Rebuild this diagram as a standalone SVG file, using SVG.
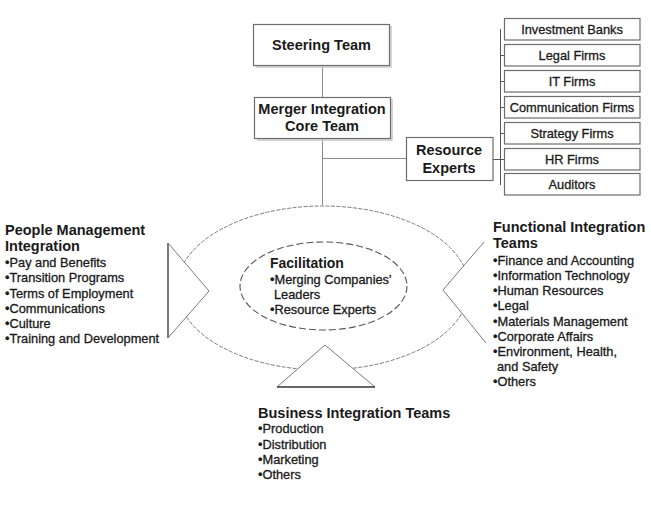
<svg xmlns="http://www.w3.org/2000/svg" width="651" height="507" viewBox="0 0 651 507">
  <style>
    .box { fill: #fff; stroke: #6d6d6d; stroke-width: 1.2; }
    .shadow { fill: none; stroke: #c8c8c8; stroke-width: 1.5; }
    .head { font-family: "Liberation Sans", Arial, sans-serif; font-weight: bold; font-size: 14.5px; fill: #1a1a1a; }
    .item { font-family: "Liberation Sans", Arial, sans-serif; font-size: 12.8px; fill: #1a1a1a; stroke: #1a1a1a; stroke-width: 0.3; }
    .mid { text-anchor: middle; }
    .conn { fill: none; stroke: #8a8a8a; stroke-width: 1; }
    .bracket { fill: none; stroke: #555; stroke-width: 1; }
    .outer { fill: none; stroke: #7a7a7a; stroke-width: 1; stroke-dasharray: 4 1.5; }
    .inner { fill: none; stroke: #555; stroke-width: 1.1; stroke-dasharray: 7 3; }
    .side { fill: none; stroke: #7a7a7a; stroke-width: 1; }
    .edge { fill: none; stroke: #333; stroke-width: 1.3; }
  </style>

  <!-- connectors -->
  <g id="connectors">
    <line class="conn" x1="322.5" y1="65" x2="322.5" y2="97"/>
    <line class="conn" x1="322.5" y1="138" x2="322.5" y2="205"/>
    <line class="conn" x1="322.5" y1="158.5" x2="406" y2="158.5"/>
    <line class="bracket" x1="493" y1="159.5" x2="500.5" y2="159.5"/>
    <line class="bracket" x1="500.5" y1="29" x2="500.5" y2="185"/>
    <line class="bracket" x1="500.5" y1="55.5" x2="504" y2="55.5"/>
    <line class="bracket" x1="500.5" y1="81.5" x2="504" y2="81.5"/>
    <line class="bracket" x1="500.5" y1="107.5" x2="504" y2="107.5"/>
    <line class="bracket" x1="500.5" y1="133.5" x2="504" y2="133.5"/>
    <line class="bracket" x1="500.5" y1="159.5" x2="504" y2="159.5"/>
  </g>

  <!-- leadership boxes -->
  <g id="steering-team">
    <path class="shadow" d="M391 26 V67 H256"/>
    <rect class="box" x="253.5" y="24.5" width="136" height="41"/>
    <text class="head mid" x="321.5" y="50">Steering Team</text>
  </g>
  <g id="core-team">
    <path class="shadow" d="M392 99 V140 H257"/>
    <rect class="box" x="254.5" y="97.5" width="136" height="41"/>
    <text class="head mid" x="322" y="114">Merger Integration</text>
    <text class="head mid" x="322" y="131">Core Team</text>
  </g>
  <g id="resource-experts">
    <rect class="box" x="406.5" y="137.5" width="86.5" height="43"/>
    <text class="head mid" x="449" y="155">Resource</text>
    <text class="head mid" x="449" y="173">Experts</text>
  </g>

  <!-- external resource firms -->
  <g id="investment-banks">
    <rect class="box" x="504.5" y="18.5" width="135.5" height="21.5"/>
    <text class="item mid" x="572" y="34">Investment Banks</text>
  </g>
  <g id="legal-firms">
    <rect class="box" x="504.5" y="44.5" width="135.5" height="21.5"/>
    <text class="item mid" x="572" y="60">Legal Firms</text>
  </g>
  <g id="it-firms">
    <rect class="box" x="504.5" y="70.5" width="135.5" height="21.5"/>
    <text class="item mid" x="572" y="86">IT Firms</text>
  </g>
  <g id="communication-firms">
    <rect class="box" x="504.5" y="96.5" width="135.5" height="21.5"/>
    <text class="item mid" x="572" y="112">Communication Firms</text>
  </g>
  <g id="strategy-firms">
    <rect class="box" x="504.5" y="122.5" width="135.5" height="21.5"/>
    <text class="item mid" x="572" y="138">Strategy Firms</text>
  </g>
  <g id="hr-firms">
    <rect class="box" x="504.5" y="148.5" width="135.5" height="21.5"/>
    <text class="item mid" x="572" y="164">HR Firms</text>
  </g>
  <g id="auditors">
    <rect class="box" x="504.5" y="173.5" width="135.5" height="21.5"/>
    <text class="item mid" x="572" y="189">Auditors</text>
  </g>

  <!-- integration "eye": outer ring with three notches -->
  <g id="integration-ring">
    <ellipse class="outer" cx="323" cy="288" rx="146" ry="82"/>
    <!-- left notch -->
    <polygon points="168,243 209,291 168,338" fill="#fff" stroke="none"/>
    <line class="edge" x1="168" y1="243" x2="168" y2="338"/>
    <polyline class="side" points="168,243 209,291 168,338"/>
    <!-- right notch -->
    <polygon points="485,243 443,290 485,341" fill="#fff" stroke="none"/>
    <polyline class="side" points="484,242 443,290 486,343"/>
    <!-- bottom notch -->
    <polygon points="277,387 325,345 375,387" fill="#fff" stroke="none"/>
    <polyline class="side" points="277,387 325,345 375,387"/>
    <line class="edge" x1="277" y1="387" x2="375" y2="387"/>
  </g>

  <g id="facilitation">
    <ellipse class="inner" cx="323.5" cy="286" rx="83.5" ry="44"/>
    <text class="head" x="270" y="268" style="font-size:14px">Facilitation</text>
    <text class="item" x="270" y="284">•Merging Companies'</text>
    <text class="item" x="274" y="299">Leaders</text>
    <text class="item" x="270" y="314">•Resource Experts</text>
  </g>

  <g id="people-management">
    <text class="head" x="5" y="235">People Management</text>
    <text class="head" x="5" y="251">Integration</text>
    <text class="item" x="5" y="267">•Pay and Benefits</text>
    <text class="item" x="5" y="282">•Transition Programs</text>
    <text class="item" x="5" y="297.5">•Terms of Employment</text>
    <text class="item" x="5" y="312.5">•Communications</text>
    <text class="item" x="5" y="328">•Culture</text>
    <text class="item" x="5" y="343">•Training and Development</text>
  </g>

  <g id="functional-integration">
    <text class="head" x="493" y="232">Functional Integration</text>
    <text class="head" x="493" y="248">Teams</text>
    <text class="item" x="493" y="265">•Finance and Accounting</text>
    <text class="item" x="493" y="280">•Information Technology</text>
    <text class="item" x="493" y="295">•Human Resources</text>
    <text class="item" x="493" y="310">•Legal</text>
    <text class="item" x="493" y="325.5">•Materials Management</text>
    <text class="item" x="493" y="340.5">•Corporate Affairs</text>
    <text class="item" x="493" y="355.5">•Environment, Health,</text>
    <text class="item" x="497" y="370.5">and Safety</text>
    <text class="item" x="493" y="386">•Others</text>
  </g>

  <g id="business-integration">
    <text class="head" x="258" y="418">Business Integration Teams</text>
    <text class="item" x="258" y="433">•Production</text>
    <text class="item" x="258" y="448.5">•Distribution</text>
    <text class="item" x="258" y="464">•Marketing</text>
    <text class="item" x="258" y="479">•Others</text>
  </g>
</svg>
